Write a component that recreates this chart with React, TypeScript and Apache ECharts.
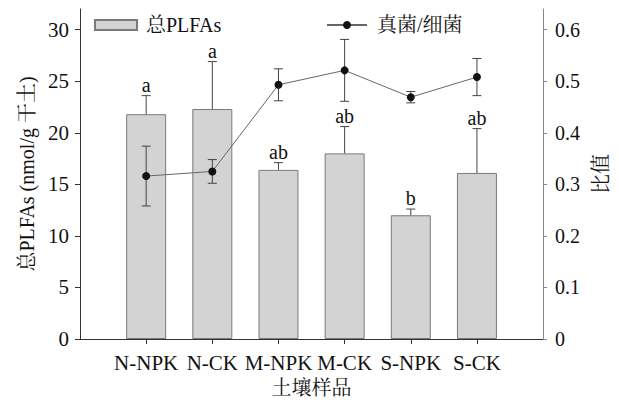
import React, { useEffect, useRef } from "react";
import * as echarts from "echarts";

const categories = ["N-NPK", "N-CK", "M-NPK", "M-CK", "S-NPK", "S-CK"];
const plfaValues = [21.8, 22.3, 16.4, 18.0, 12.0, 16.1];
const plfaErrors = [1.8, 4.6, 0.7, 2.6, 0.6, 4.3];
const sigLetters = ["a", "a", "ab", "ab", "b", "ab"];
const ratioValues = [0.316, 0.325, 0.493, 0.521, 0.469, 0.508];
const ratioErrors = [0.058, 0.023, 0.031, 0.06, 0.011, 0.036];
const leftTicks = [0, 5, 10, 15, 20, 25, 30];
const rightTicks = [0, 0.1, 0.2, 0.3, 0.4, 0.5, 0.6];
const categoryPositions = [1, 2, 3, 4, 5, 6];

const FONT = "'Liberation Serif', 'Times New Roman', 'Noto Serif CJK SC', 'Noto Sans CJK SC', serif";
const TEXT = "#111";

export default function App() {
  const ref = useRef<HTMLDivElement>(null);
  useEffect(() => {
    if (!ref.current) return;
    const chart = echarts.init(ref.current, undefined, { renderer: "svg" });
    const capHalf = 4.5;
    const option: any = {
      animation: false,
      textStyle: { fontFamily: FONT, color: TEXT },
      grid: { left: 80, right: 73, top: 9, bottom: 59 },
      legend: [
        {
          data: ["总PLFAs"],
          left: 94,
          top: 15,
          padding: 0,
          icon: "rect",
          itemWidth: 42,
          itemHeight: 10,
          textStyle: { fontFamily: FONT, fontSize: 20, color: TEXT, padding: [0, 0, 0, 4] },
        },
        {
          data: ["真菌/细菌"],
          left: 326,
          top: 15,
          padding: 0,
          itemWidth: 40,
          itemHeight: 10,
          textStyle: { fontFamily: FONT, fontSize: 20, color: TEXT, padding: [0, 0, 0, 5] },
        },
      ],
      xAxis: {
        type: "value",
        min: 0,
        max: 7,
        name: "土壤样品",
        nameLocation: "middle",
        nameGap: 39,
        nameTextStyle: { fontFamily: FONT, fontSize: 20, color: TEXT },
        axisLine: { lineStyle: { color: "#333", width: 1 } },
        axisTick: { show: true, length: 5, customValues: categoryPositions, lineStyle: { color: "#333" } },
        axisLabel: {
          customValues: categoryPositions,
          formatter: (v: number) => categories[Math.round(v) - 1] || "",
          fontFamily: FONT,
          fontSize: 21,
          color: TEXT,
          margin: 13,
        },
        splitLine: { show: false },
      },
      yAxis: [
        {
          type: "value",
          min: 0,
          max: 32,
          name: "总PLFAs (nmol/g 干土)",
          nameLocation: "middle",
          nameGap: 37,
          nameTextStyle: { fontFamily: FONT, fontSize: 20, color: TEXT },
          axisLine: { show: true, lineStyle: { color: "#333", width: 1 } },
          axisTick: { show: true, length: 5, customValues: leftTicks, lineStyle: { color: "#333" } },
          axisLabel: { customValues: leftTicks, fontFamily: FONT, fontSize: 21, color: TEXT, margin: 11 },
          splitLine: { show: false },
        },
        {
          type: "value",
          min: 0,
          max: 0.64,
          name: "比值",
          nameLocation: "middle",
          nameGap: 46,
          nameTextStyle: { fontFamily: FONT, fontSize: 20, color: TEXT },
          axisLine: { show: true, lineStyle: { color: "#888", width: 1 } },
          axisTick: { show: true, length: 4, customValues: rightTicks, lineStyle: { color: "#888" } },
          axisLabel: { customValues: rightTicks, fontFamily: FONT, fontSize: 20, color: TEXT, margin: 12 },
          splitLine: { show: false },
        },
      ],
      series: [
        {
          name: "总PLFAs",
          type: "bar",
          z: 2,
          barWidth: 40,
          data: plfaValues.map((v, i) => [categoryPositions[i], v]),
          itemStyle: { color: "#d3d3d3", borderColor: "#7a7a7a", borderWidth: 1 },
        },
        {
          type: "custom",
          z: 3,
          data: plfaValues.map((v, i) => [categoryPositions[i], v, v + plfaErrors[i]]),
          renderItem: (params: any, api: any) => {
            const x = api.value(0);
            const b = api.coord([x, api.value(1)]);
            const t = api.coord([x, api.value(2)]);
            const st = { stroke: "#444", lineWidth: 1 };
            return {
              type: "group",
              children: [
                { type: "line", shape: { x1: b[0], y1: b[1], x2: t[0], y2: t[1] }, style: st },
                { type: "line", shape: { x1: t[0] - capHalf, y1: t[1], x2: t[0] + capHalf, y2: t[1] }, style: st },
                {
                  type: "text",
                  x: t[0],
                  y: t[1] - 3,
                  style: {
                    text: sigLetters[params.dataIndex],
                    fontFamily: FONT,
                    fontSize: 20,
                    lineHeight: 16,
                    fill: TEXT,
                    align: "center",
                    verticalAlign: "bottom",
                  },
                },
              ],
            };
          },
        },
        {
          type: "custom",
          z: 4,
          yAxisIndex: 1,
          data: ratioValues.map((v, i) => [categoryPositions[i], v - ratioErrors[i], v + ratioErrors[i]]),
          renderItem: (params: any, api: any) => {
            const x = api.value(0);
            const lo = api.coord([x, api.value(1)]);
            const hi = api.coord([x, api.value(2)]);
            const st = { stroke: "#444", lineWidth: 1 };
            return {
              type: "group",
              children: [
                { type: "line", shape: { x1: lo[0], y1: lo[1], x2: hi[0], y2: hi[1] }, style: st },
                { type: "line", shape: { x1: hi[0] - capHalf, y1: hi[1], x2: hi[0] + capHalf, y2: hi[1] }, style: st },
                { type: "line", shape: { x1: lo[0] - capHalf, y1: lo[1], x2: lo[0] + capHalf, y2: lo[1] }, style: st },
              ],
            };
          },
        },
        {
          name: "真菌/细菌",
          type: "line",
          z: 5,
          yAxisIndex: 1,
          data: ratioValues.map((v, i) => [categoryPositions[i], v]),
          symbol: "circle",
          symbolSize: 8,
          itemStyle: { color: "#111" },
          lineStyle: { color: "#666", width: 1 },
        },
      ],
    };
    chart.setOption(option);
    return () => chart.dispose();
  }, []);
  return (
    <div
      ref={ref}
      style={{ position: "fixed", left: 0, top: 0, width: 619, height: 403, background: "#fff" }}
    />
  );
}
